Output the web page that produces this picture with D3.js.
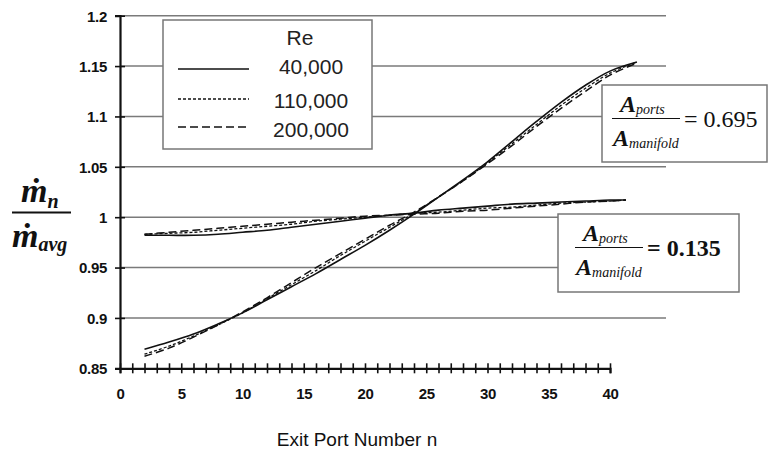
<!DOCTYPE html>
<html>
<head>
<meta charset="utf-8">
<script src="https://cdnjs.cloudflare.com/ajax/libs/d3/7.8.5/d3.min.js"></script>
<style>
  body { margin: 0; background: #fff; }
  svg { display: block; }
</style>
</head>
<body>
<div id="chart"></div>
<script>
// exit port numbers at which the curves were read
var nSteep = [2, 4, 6, 8, 10, 12, 14, 16, 18, 20, 22, 24, 26, 28, 30, 32, 34, 36, 38, 40, 42.2];
var nFlat  = [2, 4, 6, 8, 10, 12, 14, 16, 18, 20, 22, 24, 26, 28, 30, 32, 34, 36, 38, 40, 41.3];

// Aports/Amanifold = 0.695
var steep40k  = [0.869, 0.876, 0.884, 0.894, 0.905, 0.918, 0.931, 0.944, 0.958, 0.972, 0.987, 1.003, 1.020, 1.037, 1.055, 1.075, 1.095, 1.114, 1.131, 1.145, 1.154];
var steep110k = [0.864, 0.872, 0.882, 0.893, 0.905, 0.919, 0.933, 0.947, 0.962, 0.976, 0.990, 1.004, 1.020, 1.036, 1.054, 1.073, 1.092, 1.111, 1.128, 1.143, 1.154];
var steep200k = [0.862, 0.870, 0.881, 0.893, 0.906, 0.920, 0.935, 0.950, 0.964, 0.978, 0.992, 1.005, 1.020, 1.036, 1.053, 1.071, 1.090, 1.108, 1.125, 1.141, 1.153];

// Aports/Amanifold = 0.135
var flat40k  = [0.982, 0.982, 0.982, 0.983, 0.985, 0.987, 0.990, 0.993, 0.996, 0.999, 1.002, 1.004, 1.007, 1.009, 1.011, 1.013, 1.014, 1.015, 1.016, 1.017, 1.017];
var flat110k = [0.983, 0.984, 0.985, 0.987, 0.989, 0.991, 0.993, 0.996, 0.998, 1.000, 1.002, 1.004, 1.005, 1.007, 1.009, 1.010, 1.012, 1.014, 1.015, 1.016, 1.017];
var flat200k = [0.983, 0.985, 0.987, 0.989, 0.991, 0.993, 0.995, 0.997, 0.999, 1.001, 1.002, 1.003, 1.004, 1.006, 1.007, 1.009, 1.011, 1.013, 1.015, 1.016, 1.017];

var reLabels = ["40,000", "110,000", "200,000"];
var reDash   = [null, "3,2", "8,4"];
var reWidth  = [1.6, 1.3, 1.5];

var yTicks = [0.85, 0.9, 0.95, 1, 1.05, 1.1, 1.15, 1.2];
var xTicks = d3.range(0, 41);

var W = 769, H = 454;
var plotL = 120, plotR = 610, plotT = 15.7, plotB = 368.3, gridR = 666;

var svg = d3.select("#chart").append("svg")
  .attr("width", W)
  .attr("height", H);

var x = d3.scaleLinear().domain([0, 40]).range([plotL, plotR]);
var y = d3.scaleLinear().domain([0.85, 1.2]).range([plotB, plotT]);

// horizontal grid
svg.append("g")
  .selectAll("line")
  .data(yTicks.slice(1))
  .enter().append("line")
  .attr("x1", plotL)
  .attr("x2", gridR)
  .attr("y1", function(d){ return y(d); })
  .attr("y2", function(d){ return y(d); })
  .attr("stroke", "#7a7a7a")
  .attr("stroke-width", 1.5);

// curves
var line = d3.line()
  .x(function(d){ return x(d[0]); })
  .y(function(d){ return y(d[1]); })
  .curve(d3.curveCatmullRom);

var groups = [
  [nSteep, [steep40k, steep110k, steep200k]],
  [nFlat,  [flat40k, flat110k, flat200k]]
];
groups.forEach(function(g){
  g[1].forEach(function(vals, i){
    svg.append("path")
      .attr("d", line(d3.zip(g[0], vals)))
      .attr("fill", "none")
      .attr("stroke", "#111")
      .attr("stroke-width", reWidth[i])
      .attr("stroke-dasharray", reDash[i]);
  });
});

// y axis
var yAxis = svg.append("g")
  .attr("transform", "translate(" + plotL + ",0)")
  .call(d3.axisLeft(y).tickValues(yTicks).tickSize(5).tickFormat(d3.format("")));
yAxis.select(".domain").attr("stroke", "#111").attr("stroke-width", 2.2);
yAxis.selectAll(".tick line").attr("x1", 5).attr("x2", -5).attr("stroke", "#111").attr("stroke-width", 1.6);
yAxis.selectAll(".tick text")
  .attr("x", -13)
  .attr("dy", "0.36em")
  .style("font-family", "'Liberation Sans', Arial, sans-serif")
  .style("font-weight", "bold")
  .style("font-size", "15px")
  .style("letter-spacing", "-0.3px")
  .attr("fill", "#111");

// x axis
var xAxis = svg.append("g")
  .attr("transform", "translate(0," + plotB + ")")
  .call(d3.axisBottom(x).tickValues(xTicks).tickSize(5)
    .tickFormat(function(d){ return d % 5 === 0 ? d : ""; }));
xAxis.select(".domain").attr("stroke", "#111").attr("stroke-width", 2.2);
xAxis.selectAll(".tick line").attr("y1", -5).attr("y2", 5).attr("stroke", "#111").attr("stroke-width", 1.6);
xAxis.selectAll(".tick text")
  .attr("y", 31)
  .attr("dy", 0)
  .style("font-family", "'Liberation Sans', Arial, sans-serif")
  .style("font-weight", "bold")
  .style("font-size", "15px")
  .style("letter-spacing", "-0.3px")
  .attr("fill", "#111");

// x axis title
svg.append("text")
  .attr("x", 357)
  .attr("y", 446)
  .attr("text-anchor", "middle")
  .style("font-family", "'Liberation Sans', Arial, sans-serif")
  .style("font-size", "19px")
  .attr("fill", "#111")
  .text("Exit Port Number n");

// y axis title: m-dot_n / m-dot_avg
var serif = "'Liberation Serif', 'DejaVu Serif', 'Times New Roman', serif";
var yt = svg.append("g")
  .style("font-family", serif)
  .style("font-weight", "bold")
  .style("font-style", "italic")
  .attr("fill", "#111");
yt.append("text").attr("x", 21).attr("y", 202).style("font-size", "34px")
  .text("ṁ").append("tspan").attr("dy", 6).style("font-size", "20px").text("n");
yt.append("line").attr("x1", 12).attr("x2", 71).attr("y1", 212.5).attr("y2", 212.5)
  .attr("stroke", "#111").attr("stroke-width", 2);
yt.append("text").attr("x", 12).attr("y", 247).style("font-size", "34px")
  .text("ṁ").append("tspan").attr("dy", 4).style("font-size", "20px").text("avg");

// legend
var lg = svg.append("g");
lg.append("rect")
  .attr("x", 163).attr("y", 20).attr("width", 209).attr("height", 129)
  .attr("fill", "#fff").attr("stroke", "#777").attr("stroke-width", 1.5);
lg.append("text")
  .attr("x", 300).attr("y", 45).attr("text-anchor", "middle")
  .style("font-family", "'Liberation Sans', Arial, sans-serif")
  .style("font-size", "21px").attr("fill", "#222").text("Re");
var legY = [69, 99, 127], legTextY = [74, 108, 137];
reLabels.forEach(function(lab, i){
  lg.append("line")
    .attr("x1", 178).attr("x2", 249).attr("y1", legY[i]).attr("y2", legY[i])
    .attr("stroke", "#111").attr("stroke-width", reWidth[i])
    .attr("stroke-dasharray", reDash[i]);
  lg.append("text")
    .attr("x", 311).attr("y", legTextY[i]).attr("text-anchor", "middle")
    .style("font-family", "'Liberation Sans', Arial, sans-serif")
    .style("font-size", "21px").attr("fill", "#222").text(lab);
});

// area ratio boxes
function ratioBox(bx, by, bw, bh, barX, barY, value, bold){
  var b = svg.append("g");
  b.append("rect")
    .attr("x", bx).attr("y", by).attr("width", bw).attr("height", bh)
    .attr("fill", "#fff").attr("stroke", "#777").attr("stroke-width", 1.5);
  var t = b.append("g").style("font-family", serif).attr("fill", "#111");
  t.append("text").attr("x", barX + 8).attr("y", barY - 7)
    .style("font-style", "italic").style("font-weight", "bold").style("font-size", "24px")
    .text("A").append("tspan").attr("dy", 2).style("font-size", "14px").style("font-weight", "normal").text("ports");
  t.append("line").attr("x1", barX).attr("x2", barX + 68).attr("y1", barY).attr("y2", barY)
    .attr("stroke", "#111").attr("stroke-width", 1.2);
  t.append("text").attr("x", barX + 1).attr("y", barY + 27)
    .style("font-style", "italic").style("font-weight", "bold").style("font-size", "24px")
    .text("A").append("tspan").attr("dy", 2).style("font-size", "14px").style("font-weight", "normal").text("manifold");
  t.append("text").attr("x", barX + 72).attr("y", barY + 8)
    .style("font-size", "24px").style("font-weight", bold ? "bold" : "normal")
    .text("= " + value);
}
ratioBox(602, 85, 165, 77, 612, 118.5, "0.695", false);
ratioBox(558, 214, 181, 78, 575, 247.5, "0.135", true);
</script>
</body>
</html>
